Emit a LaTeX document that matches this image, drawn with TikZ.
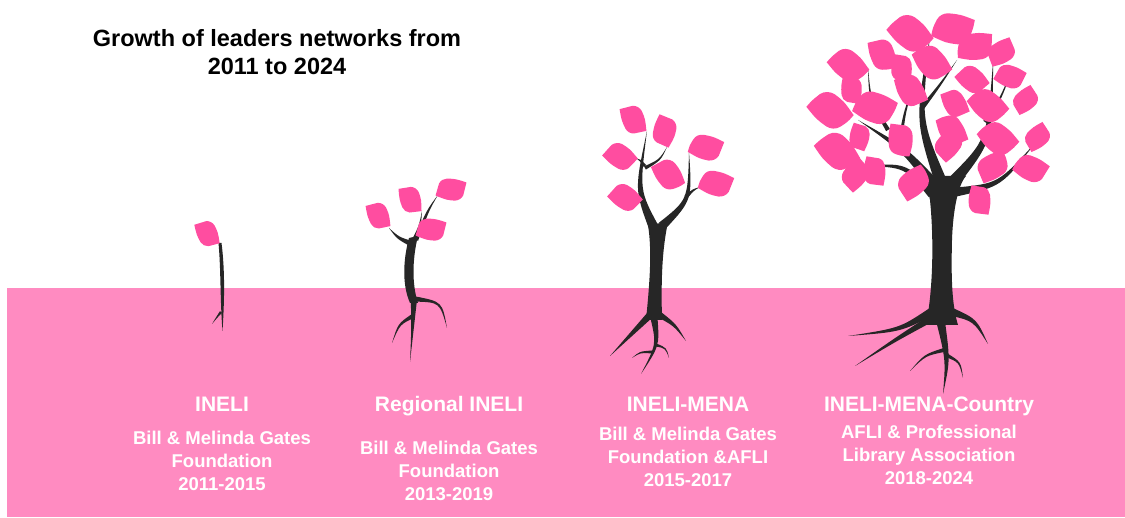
\documentclass[tikz,border=0pt]{standalone}
\usepackage{fontspec}
\setmainfont{Liberation Sans}
\usetikzlibrary{calc}
\definecolor{groundpink}{HTML}{FF8BC1}
\definecolor{leafpink}{HTML}{FF4DA0}
\definecolor{bark}{HTML}{262626}
% tapered branch or root: start, bend, tip, half width at the start
\newcommand\twig[4]{\fill[bark] ($(#1)!#4!90:(#2)$) .. controls ($(#2)!0.5*#4!90:(#3)$) .. (#3) .. controls ($(#2)!0.5*#4!-90:(#3)$) .. ($(#1)!#4!-90:(#2)$) -- cycle;}
\begin{document}
\begin{tikzpicture}[x=1pt,y=-1pt,
  leafshape/.pic={\fill[leafpink] (-16,0) .. controls (-13,-5) .. (-8.5,-9.2) .. controls (-6,-11.4) and (-2.5,-11.8) .. (0.5,-10.6) .. controls (8,-7) .. (16,0) .. controls (13,5) .. (8.5,10) .. controls (6,12.4) and (2,12.8) .. (-1,11.6) .. controls (-8,8) .. (-16,0) -- cycle;},
  titletext/.style={text=black, font=\bfseries\fontsize{23.5}{28}\selectfont, align=center, inner sep=0pt},
  headtext/.style={text=white, font=\bfseries\fontsize{21}{25}\selectfont, inner sep=0pt, anchor=base},
  subtext/.style={text=white, font=\bfseries\fontsize{18.5}{23}\selectfont, align=center, inner sep=0pt},
]
\fill[white] (0,0) rectangle (1125,518);
\useasboundingbox (0,0) rectangle (1125,518);

% ground
\fill[groundpink] (7,288) rectangle (1125,517);

% title
\node[titletext] (title) at (277,52) {Growth of leaders networks from\\2011 to 2024};

% ---------- seedling ----------
\fill[bark] (218.5,243) .. controls (221,270) and (220,300) .. (222.5,331) .. controls (224.5,300) and (225,270) .. (221.5,243) -- cycle;
\twig{221,312}{217,317}{212,324}{1.3pt}
\pic[rotate=144,scale=0.98] at (207,234) {leafshape};

% ---------- sapling ----------
\fill[bark] (409,238) .. controls (403,260) and (402,285) .. (410,303) -- (418,303) .. controls (412,285) and (412,260) .. (418,236) -- cycle;
\twig{412,244}{398,238}{389,228}{2.8pt}
\twig{414,240}{420,226}{422,211}{2pt}
\twig{416,240}{428,210}{438,195}{2.2pt}
\twig{414,298}{413,330}{410,362}{3.2pt}
\twig{415,299}{441,302}{447,328}{2.6pt}
\twig{413,316}{399,324}{392,343}{2.2pt}
\pic[rotate=141,scale=1.0] at (378,216) {leafshape};
\pic[rotate=136,scale=1.0] at (410,200) {leafshape};
\pic[rotate=23,scale=1.05] at (451,189) {leafshape};
\pic[rotate=23,scale=1.05] at (431,229) {leafshape};

% ---------- young tree ----------
\fill[bark] (646,320) .. controls (650,280) and (652,250) .. (648,225) -- (668,222) .. controls (662,250) and (661,280) .. (662,320) -- cycle;
\twig{654,228}{637,190}{647,131}{5pt}
\twig{662,226}{690,200}{689,152}{4.5pt}
\twig{645,168}{660,160}{667,147}{1.8pt}
\twig{645,166}{640,160}{636,158}{1.6pt}
\twig{686,197}{693,190}{700,187}{2pt}
\twig{650,315}{630,335}{610,356}{3.5pt}
\twig{660,315}{675,325}{686,341}{3pt}
\twig{654,318}{658,345}{641,374}{3.5pt}
\twig{656,345}{666,348}{669,358}{1.5pt}
\twig{652,352}{640,352}{632,358}{1.5pt}
\pic[rotate=141,scale=1.08] at (633,120) {leafshape};
\pic[rotate=105,scale=1.08] at (664,131) {leafshape};
\pic[rotate=175,scale=1.12] at (620,157) {leafshape};
\pic[rotate=15,scale=1.18] at (706,147) {leafshape};
\pic[rotate=155,scale=1.18] at (668,175) {leafshape};
\pic[rotate=15,scale=1.18] at (716,183) {leafshape};
\pic[rotate=175,scale=1.12] at (625,198) {leafshape};

% ---------- grown tree ----------
\fill[bark] (926,325) .. controls (933,290) and (934,240) .. (930,200) .. controls (928,190) and (925,182) .. (920,176) -- (966,176) .. controls (958,185) and (953,210) .. (952,240) .. controls (951,280) and (952,305) .. (958,325) -- cycle;
% limbs
\twig{935,186}{905,150}{858,120}{6pt}
\twig{932,194}{905,165}{863,166}{4.5pt}
\twig{941,182}{918,120}{930,36}{6pt}
\twig{922,108}{940,85}{957,60}{2.2pt}
\twig{953,182}{990,140}{993,62}{6pt}
\twig{956,192}{1000,185}{1036,142}{4.5pt}
\twig{888,130}{870,100}{868,68}{2.2pt}
\twig{900,142}{905,110}{915,82}{2pt}
\twig{985,122}{1000,100}{1012,70}{2pt}
% roots
\twig{931,312}{900,330}{848,336}{4pt}
\twig{932,318}{895,340}{855,366}{3.5pt}
\twig{952,312}{975,320}{988,344}{4pt}
\twig{940,318}{948,360}{943,394}{4.5pt}
\twig{944,350}{925,355}{910,371}{2pt}
\twig{946,355}{960,362}{963,378}{2pt}
% crown
\pic[rotate=170,scale=1.5] at (910,34) {leafshape};
\pic[rotate=20,scale=1.45] at (953,28) {leafshape};
\pic[rotate=35,scale=1.3] at (975,46) {leafshape};
\pic[rotate=140,scale=1.18] at (882,55) {leafshape};
\pic[rotate=170,scale=1.35] at (848,66) {leafshape};
\pic[rotate=-20,scale=1.35] at (932,62) {leafshape};
\pic[rotate=-60,scale=1.0] at (902,68) {leafshape};
\pic[rotate=60,scale=1.06] at (1001,52) {leafshape};
\pic[rotate=170,scale=1.12] at (972,80) {leafshape};
\pic[rotate=10,scale=1.06] at (1010,76) {leafshape};
\pic[rotate=120,scale=1.0] at (851,90) {leafshape};
\pic[rotate=-30,scale=1.23] at (911,90) {leafshape};
\pic[rotate=170,scale=1.5] at (830,111) {leafshape};
\pic[rotate=10,scale=1.45] at (875,107) {leafshape};
\pic[rotate=-30,scale=1.06] at (955,103) {leafshape};
\pic[rotate=-10,scale=1.35] at (988,105) {leafshape};
\pic[rotate=70,scale=1.0] at (1025,100) {leafshape};
\pic[rotate=110,scale=0.95] at (859,137) {leafshape};
\pic[rotate=120,scale=1.18] at (900,140) {leafshape};
\pic[rotate=-30,scale=1.18] at (952,130) {leafshape};
\pic[rotate=-10,scale=1.35] at (998,138) {leafshape};
\pic[rotate=70,scale=1.0] at (1037,137) {leafshape};
\pic[rotate=165,scale=1.5] at (837,152) {leafshape};
\pic[rotate=-100,scale=1.12] at (949,145) {leafshape};
\pic[rotate=-120,scale=1.18] at (993,167) {leafshape};
\pic[rotate=-100,scale=1.12] at (856,175) {leafshape};
\pic[rotate=-60,scale=1.06] at (875,171) {leafshape};
\pic[rotate=-110,scale=1.23] at (914,183) {leafshape};
\pic[rotate=5,scale=1.18] at (1031,168) {leafshape};
\pic[rotate=-60,scale=1.06] at (980,200) {leafshape};

% labels
\node[headtext] (h1) at (222,411.5) {INELI};
\node[subtext] (s1) at (222,461) {Bill \& Melinda Gates\\Foundation\\2011-2015};
\node[headtext] (h2) at (449,411.5) {Regional INELI};
\node[subtext] (s2) at (449,471) {Bill \& Melinda Gates\\Foundation\\2013-2019};
\node[headtext] (h3) at (688,411.5) {INELI-MENA};
\node[subtext] (s3) at (688,457) {Bill \& Melinda Gates\\Foundation \&AFLI\\2015-2017};
\node[headtext] (h4) at (929,411.5) {INELI-MENA-Country};
\node[subtext] (s4) at (929,455) {AFLI \& Professional\\Library Association\\2018-2024};
\end{tikzpicture}
\end{document}
